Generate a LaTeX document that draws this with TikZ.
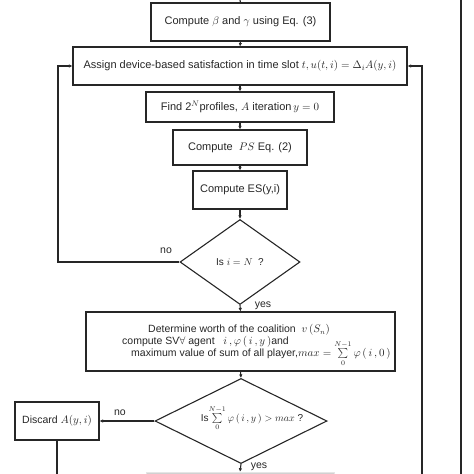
\documentclass[tikz,border=0pt]{standalone}
\usepackage{fontspec}
\setmainfont{Liberation Sans}
\usetikzlibrary{shapes.geometric,arrows.meta}
\tikzset{
  box/.style={draw=black!85,line width=1.1pt,inner sep=0pt,font=\fontsize{11}{13}\selectfont,text=black!85},
  dia/.style={diamond,draw=black!85,line width=1.1pt,inner sep=0pt,aspect=1.4,font=\fontsize{10}{12}\selectfont,text=black!85},
  conn/.style={draw=black!85,line width=1.1pt},
  arr/.style={conn,-{Latex[length=3.5pt,width=3.5pt]}},
  lbl/.style={font=\fontsize{10.5}{12}\selectfont,text=black!85,inner sep=0pt},
}
\begin{document}
\begin{tikzpicture}[x=1pt,y=-1pt]
\useasboundingbox (0,0) rectangle (474,474);
\clip (0,0) rectangle (474,474);
% partially visible box at bottom
\node[fill=black!18,draw=black!10,minimum width=188pt,minimum height=20pt,inner sep=0pt] (last) at (240,482) {};
\node[box,minimum width=179pt,minimum height=38pt] (b1) at (240.5,22) {Compute $\beta$ and $\gamma$ using Eq. (3)\hspace{10pt}};
\node[box,minimum width=334pt,minimum height=38pt] (b2) at (240,66) {Assign device-based satisfaction in time slot $t,u(t,i)=\Delta_i A(y,i)$\hspace{4pt}};
\node[box,minimum width=188pt,minimum height=30pt] (b3) at (240,107) {Find 2$^N$profiles, $A$ iteration$\,y=0$};
\node[box,minimum width=134pt,minimum height=35pt] (b4) at (240,147.5) {Compute~ $PS$ Eq. (2)\hspace{14pt}};
\node[box,minimum width=94pt,minimum height=38pt] (b5) at (240,190) {Compute ES(y,i)};
\node[dia,minimum width=120pt,minimum height=85pt] (d1) at (240,262) {Is $i=N$~ ?};
\node[box,minimum width=309pt,minimum height=59pt] (b6) at (240.5,341.5) {};
\node[lbl,anchor=west] (t1) at (148,330) {Determine worth of the coalition~ $v\,(S_n)$};
\node[lbl,anchor=west] (t2) at (122,342) {compute SV$\forall$ agent~~ $i\,,\varphi\,(\,i\,,y\,)$and};
\node[lbl,anchor=west] (t3) at (131,354) {maximum value of sum of all player,\smash{$max=\sum\limits_0^{N-1}\varphi\,(\,i\,,0\,)$}};
\node[dia,minimum width=172pt,minimum height=85pt] (d2) at (241,421) {\smash{\makebox[0pt]{\hspace{22pt}Is$\sum\limits_0^{N-1}\varphi\,(\,i\,,y\,)>max$ ?}}};
\node[box,minimum width=84pt,minimum height=38pt,font=\fontsize{10.5}{12}\selectfont] (disc) at (57,421) {Discard $A(y,i)$};
% coordinates
\coordinate (top) at (240,0);
\coordinate (lc1) at (58,262);
\coordinate (lc2) at (58,66);
\coordinate (db) at (57,474);
\coordinate (rb) at (422,474);
\coordinate (rt) at (422,66);
\coordinate (fr1) at (461,0);
\coordinate (fr2) at (461,474);
% connectors
\draw[conn] (top) -- (b1.north);
\draw[arr] (b1.south) -- (b2.north);
\draw[arr] (b2.south) -- (b3.north);
\draw[arr] (b3.south) -- (b4.north);
\draw[arr] (b4.south) -- (b5.north);
\draw[arr] (b5.south) -- (d1.north);
\draw[arr] (d1.south) -- (b6.north);
\draw[arr] (d1.west) -- (lc1) -- (lc2) -- (b2.west);
\draw[arr] (b6.south) -- (d2.north);
\draw[arr] (d2.west) -- (disc.east);
\draw[conn] (disc.south) -- (db);
\draw[arr] (d2.south) -- (last.north);
\draw[arr] (rb) -- (rt) -- (b2.east);
\draw[conn] (fr1) -- (fr2);
% labels
\node[lbl] (no1) at (166,251) {no};
\node[lbl] (yes1) at (263,306) {yes};
\node[lbl] (no2) at (120,413) {no};
\node[lbl] (yes2) at (259,467) {yes};
\end{tikzpicture}
\end{document}
